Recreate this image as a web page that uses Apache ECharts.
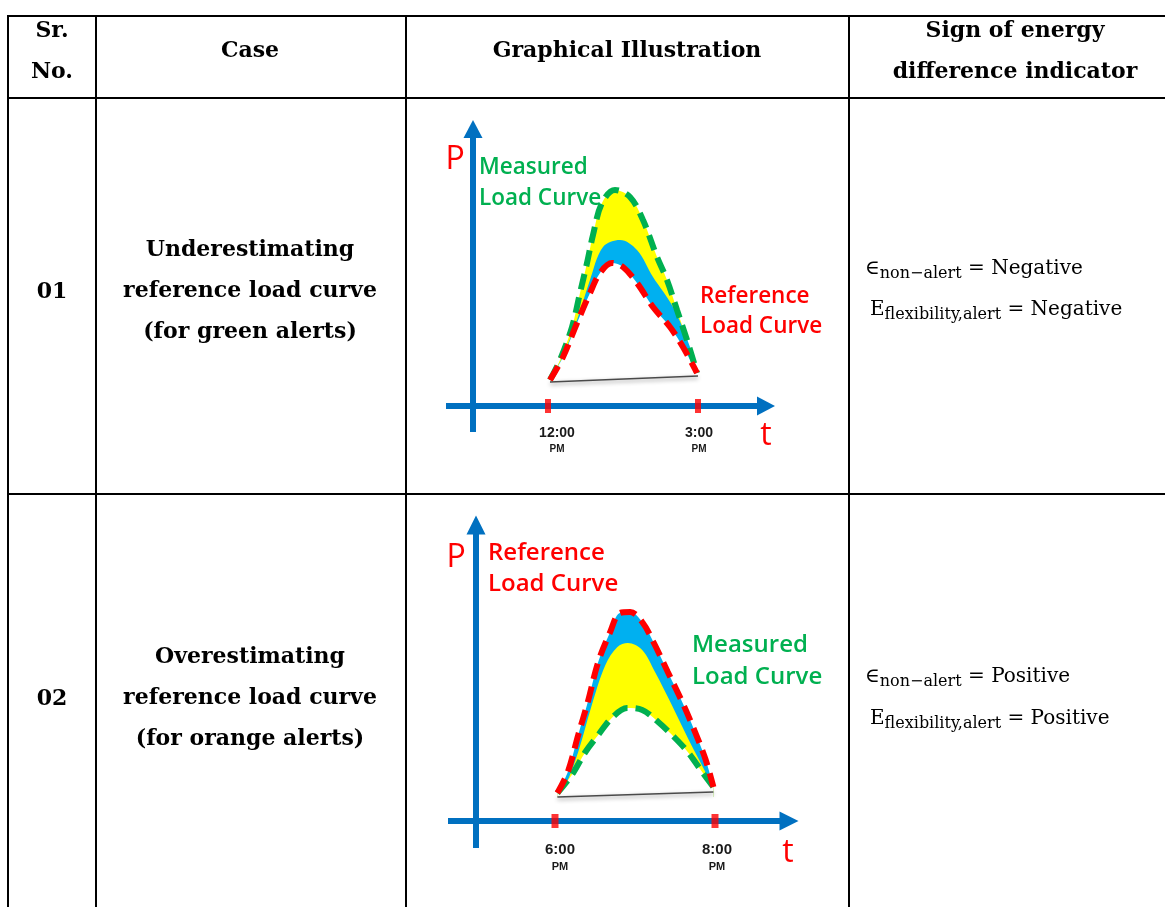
<!DOCTYPE html>
<html><head><meta charset="utf-8">
<script src="https://cdn.jsdelivr.net/npm/echarts@6/dist/echarts.min.js"></script>
<style>html,body{margin:0;padding:0;background:#fff}#c{width:1165px;height:907px}</style>
</head><body><div id="c"></div>
<script>
// ---------- DATA (x = hour of day, y = power P in arbitrary units) ----------
// Case 01: underestimating reference load curve (12:00 - 3:00 PM)
const tickValues1 = [12, 15];
const tickLabels1 = ['12:00', '3:00'];
const measured1 = [[12.04,26],[12.24,46],[12.48,79],[12.64,113],[12.78,143],[12.90,171],[13.08,203],[13.34,216],[13.64,209],[13.90,186],[14.18,149],[14.38,126],[14.58,96],[14.78,66],[14.98,33]];
const inner1 = [[12.04,26],[12.28,48],[12.58,86],[12.84,126],[13.10,159],[13.44,166],[13.78,156],[14.10,129],[14.50,99],[14.84,59],[14.98,33]];
const reference1 = [[12.04,26],[12.30,49],[12.58,83],[12.84,113],[13.04,133],[13.28,143],[13.50,139],[13.78,123],[14.10,99],[14.44,79],[14.70,59],[14.98,33]];
const base1 = [[12.04,24],[15.0,30]];

// Case 02: overestimating reference load curve (6:00 - 8:00 PM)
const tickValues2 = [18, 20];
const tickLabels2 = ['6:00', '8:00'];
const reference2 = [[18.03,28],[18.16,49],[18.29,86],[18.41,119],[18.54,159],[18.69,189],[18.81,208],[18.94,209],[19.09,199],[19.23,179],[19.41,149],[19.59,119],[19.73,93],[19.88,62],[19.98,34]];
const inner2 = [[18.03,28],[18.13,36],[18.29,69],[18.46,116],[18.63,156],[18.78,174],[18.91,178],[19.09,171],[19.25,149],[19.46,116],[19.66,83],[19.88,49],[19.98,34]];
const measured2 = [[18.03,28],[18.21,46],[18.38,69],[18.54,86],[18.71,103],[18.90,113],[19.09,111],[19.29,99],[19.50,83],[19.66,69],[19.84,49],[19.98,34]];
const base2 = [[18.03,24],[19.98,29]];

const tickSuffix = 'PM';

// ---------- STYLE ----------
const BLUE='#0070C0', RED='#FF0000', GREEN='#00B050', YELLOW='#FFFF00', CYAN='#00B0F0';
const chart = echarts.init(document.getElementById('c'), null, {renderer:'canvas', width:1165, height:907});

function T(x,y,text,o){
  return {type:'text', z:50, silent:true, style:Object.assign({x:x, y:y, text:text, fill:'#000',
    fontFamily:'DejaVu Serif', fontWeight:'bold', fontSize:22,
    align:'center', verticalAlign:'middle', textAlign:'center', textVerticalAlign:'middle'}, o||{})};
}
function A(x,y,text,color,size){
  return T(x,y,text,{fill:color, fontFamily:'Open Sans', fontWeight:600, fontSize:size, align:'left', textAlign:'left'});
}
function L(x1,y1,x2,y2){
  return {type:'line', z:40, silent:true, shape:{x1:x1,y1:y1,x2:x2,y2:y2}, style:{stroke:'#000', lineWidth:2}};
}
function R(x,y,sym,sub,val){
  return {type:'text', z:50, silent:true, style:{x:x, y:y, text:'{m|'+sym+'}{s|'+sub+'}{m| = '+val+'}',
    align:'left', verticalAlign:'middle', textAlign:'left', textVerticalAlign:'middle',
    rich:{m:{fontFamily:'DejaVu Serif', fontSize:20, lineHeight:26, fill:'#000', color:'#000'},
          s:{fontFamily:'DejaVu Serif', fontSize:16, lineHeight:16, verticalAlign:'bottom', fill:'#000', color:'#000'}}}};
}

const graphics = [];
[8,96,406,849].forEach(x=>graphics.push(L(x,15,x,907)));
[16,98,494].forEach(y=>graphics.push(L(7,y,1165,y)));
graphics.push(
  T(52,31,'Sr.'), T(52,72,'No.'), T(250,51,'Case'), T(627,51,'Graphical Illustration'),
  T(1015,31,'Sign of energy'), T(1015,72,'difference indicator'),
  T(52,292,'01'), T(52,699,'02'),
  T(250,291,'Underestimating\nreference load curve\n(for green alerts)',{lineHeight:41}),
  T(250,698,'Overestimating\nreference load curve\n(for orange alerts)',{lineHeight:41}),
  R(865,269,'∈','non−alert','Negative'), R(870,310,'E','flexibility,alert','Negative'),
  R(865,677,'∈','non−alert','Positive'), R(870,719,'E','flexibility,alert','Positive'),
  // annotations in illustrations
  A(479,168,'Measured',GREEN,22.5), A(479,199,'Load Curve',GREEN,22.5),
  A(700,297,'Reference',RED,22.5), A(700,327,'Load Curve',RED,22.5),
  A(488,553,'Reference',RED,24), A(488,584,'Load Curve',RED,24),
  A(692,645,'Measured',GREEN,24), A(692,677,'Load Curve',GREEN,24),
  T(455,160,'P',{fill:RED, fontFamily:'Open Sans', fontWeight:'normal', fontSize:32}),
  T(456,558,'P',{fill:RED, fontFamily:'Open Sans', fontWeight:'normal', fontSize:32}),
  T(766,436,'t',{fill:RED, fontFamily:'Open Sans', fontWeight:'normal', fontSize:32}),
  T(788,853,'t',{fill:RED, fontFamily:'Open Sans', fontWeight:'normal', fontSize:32})
);

function labelCfg(values, labels, shifts, fs, ps, lh1, lh2, margin){
  const rich = {};
  values.forEach((v,i)=>{
    rich['t'+i] = {fontFamily:'Liberation Sans', fontWeight:'bold', fontSize:fs, lineHeight:lh1, color:'#1a1a1a', padding:[0,0,0,shifts[i]]};
    rich['p'+i] = {fontFamily:'Liberation Sans', fontWeight:'bold', fontSize:ps, lineHeight:lh2, color:'#1a1a1a', padding:[0,0,0,shifts[i]]};
  });
  return {show:true, customValues:values, margin:margin, rich:rich,
    formatter:function(v){
      let i = values.findIndex(u=>Math.abs(u-v)<1e-6);
      if(i<0) return '';
      return '{t'+i+'|'+labels[i]+'}\n{p'+i+'|'+tickSuffix+'}';
    }};
}
function xAx(gi,min,max,labelCfgObj,arrow){
  return {type:'value', gridIndex:gi, min:min, max:max,
    axisLine:{show:true, onZero:true, symbol:['none','triangle'], symbolSize:arrow, lineStyle:{color:BLUE, width:6, cap:'butt'}},
    axisTick:{show:false}, splitLine:{show:false}, axisLabel:labelCfgObj, z:1};
}
function yAx(gi,min,max,offset,arrow){
  return {type:'value', gridIndex:gi, min:min, max:max, offset:offset,
    axisLine:{show:true, onZero:false, symbol:['none','triangle'], symbolSize:arrow, lineStyle:{color:BLUE, width:6, cap:'butt'}},
    axisTick:{show:false}, splitLine:{show:false}, axisLabel:{show:false}, z:1};
}
function area(data,color,gi){
  return {type:'line', xAxisIndex:gi, yAxisIndex:gi, data:data, smooth:0.35, symbol:'none', silent:true,
    lineStyle:{width:0, opacity:0}, areaStyle:{color:color, opacity:1, origin:24}, z:2};
}
function dashed(data,color,gi){
  return {type:'line', xAxisIndex:gi, yAxisIndex:gi, data:data, smooth:0.35, symbol:'none', silent:true,
    lineStyle:{color:color, width:6, type:[16,8], cap:'butt'}, z:4};
}
function baseLine(data,gi){
  return {type:'line', xAxisIndex:gi, yAxisIndex:gi, data:data, symbol:'none', silent:true,
    lineStyle:{color:'#4a4a4a', width:1.5, shadowBlur:4, shadowColor:'rgba(0,0,0,0.45)', shadowOffsetY:2}, z:3};
}
function ticks(values,gi,size){
  return {type:'scatter', xAxisIndex:gi, yAxisIndex:gi, data:values.map(v=>[v,0]), symbol:'rect', symbolSize:size,
    itemStyle:{color:RED}, silent:true, z:5};
}

chart.setOption({
  animation:false,
  backgroundColor:'#fff',
  grid:[
    {left:446, top:129, width:320, height:303, outerBoundsMode:'none', containLabel:false},
    {left:448, top:525, width:341, height:323, outerBoundsMode:'none', containLabel:false}
  ],
  xAxis:[
    xAx(0, 9.96, 16.36, labelCfg(tickValues1, tickLabels1, [18,2], 14, 10, 18, 14, -8), [19,18]),
    xAx(1, 16.6625, 20.925, labelCfg(tickValues2, tickLabels2, [10,4], 15, 11, 19, 15, -8), [19,19])
  ],
  yAxis:[
    yAx(0, -26, 277, -27, [19,18]),
    yAx(1, -27, 296, -28, [19,19])
  ],
  series:[
    area(measured1, YELLOW, 0), area(inner1, CYAN, 0), area(reference1, '#fff', 0),
    baseLine(base1, 0), dashed(measured1, GREEN, 0), dashed(reference1, RED, 0), ticks(tickValues1, 0, [6,14]),
    area(reference2, CYAN, 1), area(inner2, YELLOW, 1), area(measured2, '#fff', 1),
    baseLine(base2, 1), dashed(measured2, GREEN, 1), dashed(reference2, RED, 1), ticks(tickValues2, 1, [7,14])
  ],
  graphic:graphics
});
</script></body></html>
